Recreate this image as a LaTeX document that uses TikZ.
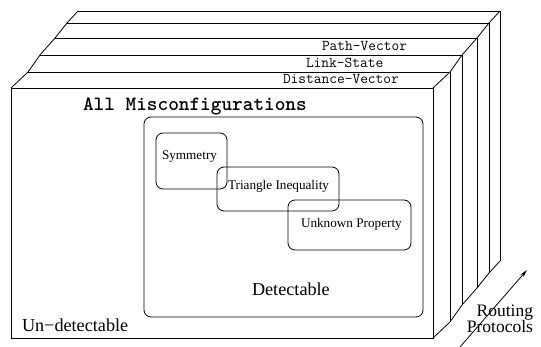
\documentclass[tikz,border=0pt]{standalone}
\usepackage{fontspec}
\setmainfont{Liberation Serif}
\usetikzlibrary{arrows.meta}
\begin{document}
\begin{tikzpicture}[x=1pt,y=-1pt,line width=0.8pt,
  edge/.style={draw=black,line join=miter},
  rbox/.style={draw=black,rounded corners=7pt,inner sep=0pt,outer sep=0pt},
  serif/.style={inner sep=0pt,outer sep=0pt,font=\fontsize{13.2}{15}\selectfont},
  bigserif/.style={inner sep=0pt,outer sep=0pt,font=\fontsize{18.2}{20}\selectfont},
  lab/.style={inner sep=0pt,outer sep=0pt,font=\fontsize{15}{17}\selectfont\ttfamily},
  title/.style={inner sep=0pt,outer sep=0pt,font=\fontsize{20.3}{22}\selectfont\ttfamily\bfseries}]
\useasboundingbox (0,0) rectangle (541,347);
% front box corners
\coordinate (F-TL) at (11,88);
\coordinate (F-TR) at (433,88);
\coordinate (F-BR) at (433,338);
% layers behind
\foreach \i/\dx/\dy in {1/17/16,2/29/33,3/44/50,4/56/65,5/67/77}{
  \coordinate (L\i-TL) at (11+\dx,88-\dy);
  \coordinate (L\i-TR) at (433+\dx,88-\dy);
  \coordinate (L\i-BR) at (433+\dx,338-\dy);
}
\foreach \i in {1,...,5}{
  \draw[edge] (L\i-TL) -- (L\i-TR) -- (L\i-BR);
}
\draw[edge] (F-TL) -- (L1-TL) -- (L2-TL) -- (L3-TL) -- (L4-TL) -- (L5-TL);
\draw[edge] (F-TR) -- (L1-TR) -- (L2-TR) -- (L3-TR) -- (L4-TR) -- (L5-TR);
\draw[edge] (F-BR) -- (L1-BR) -- (L2-BR) -- (L3-BR) -- (L4-BR) -- (L5-BR);
\draw[edge] (F-TL) rectangle (F-BR);
% layer labels
\node[lab,anchor=base west] (pv) at (322,51) {Path-Vector};
\node[lab,anchor=base west] (ls) at (306,68) {Link-State};
\node[lab,anchor=base west] (dv) at (283,84) {Distance-Vector};
\node[title,anchor=base west] (all) at (83,111) {All Misconfigurations};
% detectable region and properties
\node[rbox,minimum width=279pt,minimum height=200pt] (det) at (283.5,217) {};
\node[rbox,minimum width=71pt,minimum height=56pt] (sym) at (191.5,161) {};
\node[rbox,minimum width=122pt,minimum height=44pt] (tri) at (278,189) {};
\node[rbox,minimum width=123pt,minimum height=50pt] (unk) at (349.5,225) {};
\node[serif,anchor=base west] (symt) at (162,160) {Symmetry};
\node[serif,anchor=base west] (trit) at (228,190) {Triangle Inequality};
\node[serif,anchor=base west] (unkt) at (301,228) {Unknown Property};
\node[bigserif,anchor=base west] (dett) at (252,296) {Detectable};
\node[bigserif,anchor=base west] (undt) at (22,332) {Un−detectable};
% routing protocols axis
\coordinate (A0) at (460,347);
\coordinate (A1) at (527,270);
\draw[-{Stealth[length=8pt,width=4pt]}] (A0) -- (A1);
\node[bigserif,font=\fontsize{17.5}{20}\selectfont,anchor=base east] (rt) at (533,317) {Routing};
\node[bigserif,font=\fontsize{17.5}{20}\selectfont,anchor=base east] (pr) at (533,333) {Protocols};
\end{tikzpicture}
\end{document}
